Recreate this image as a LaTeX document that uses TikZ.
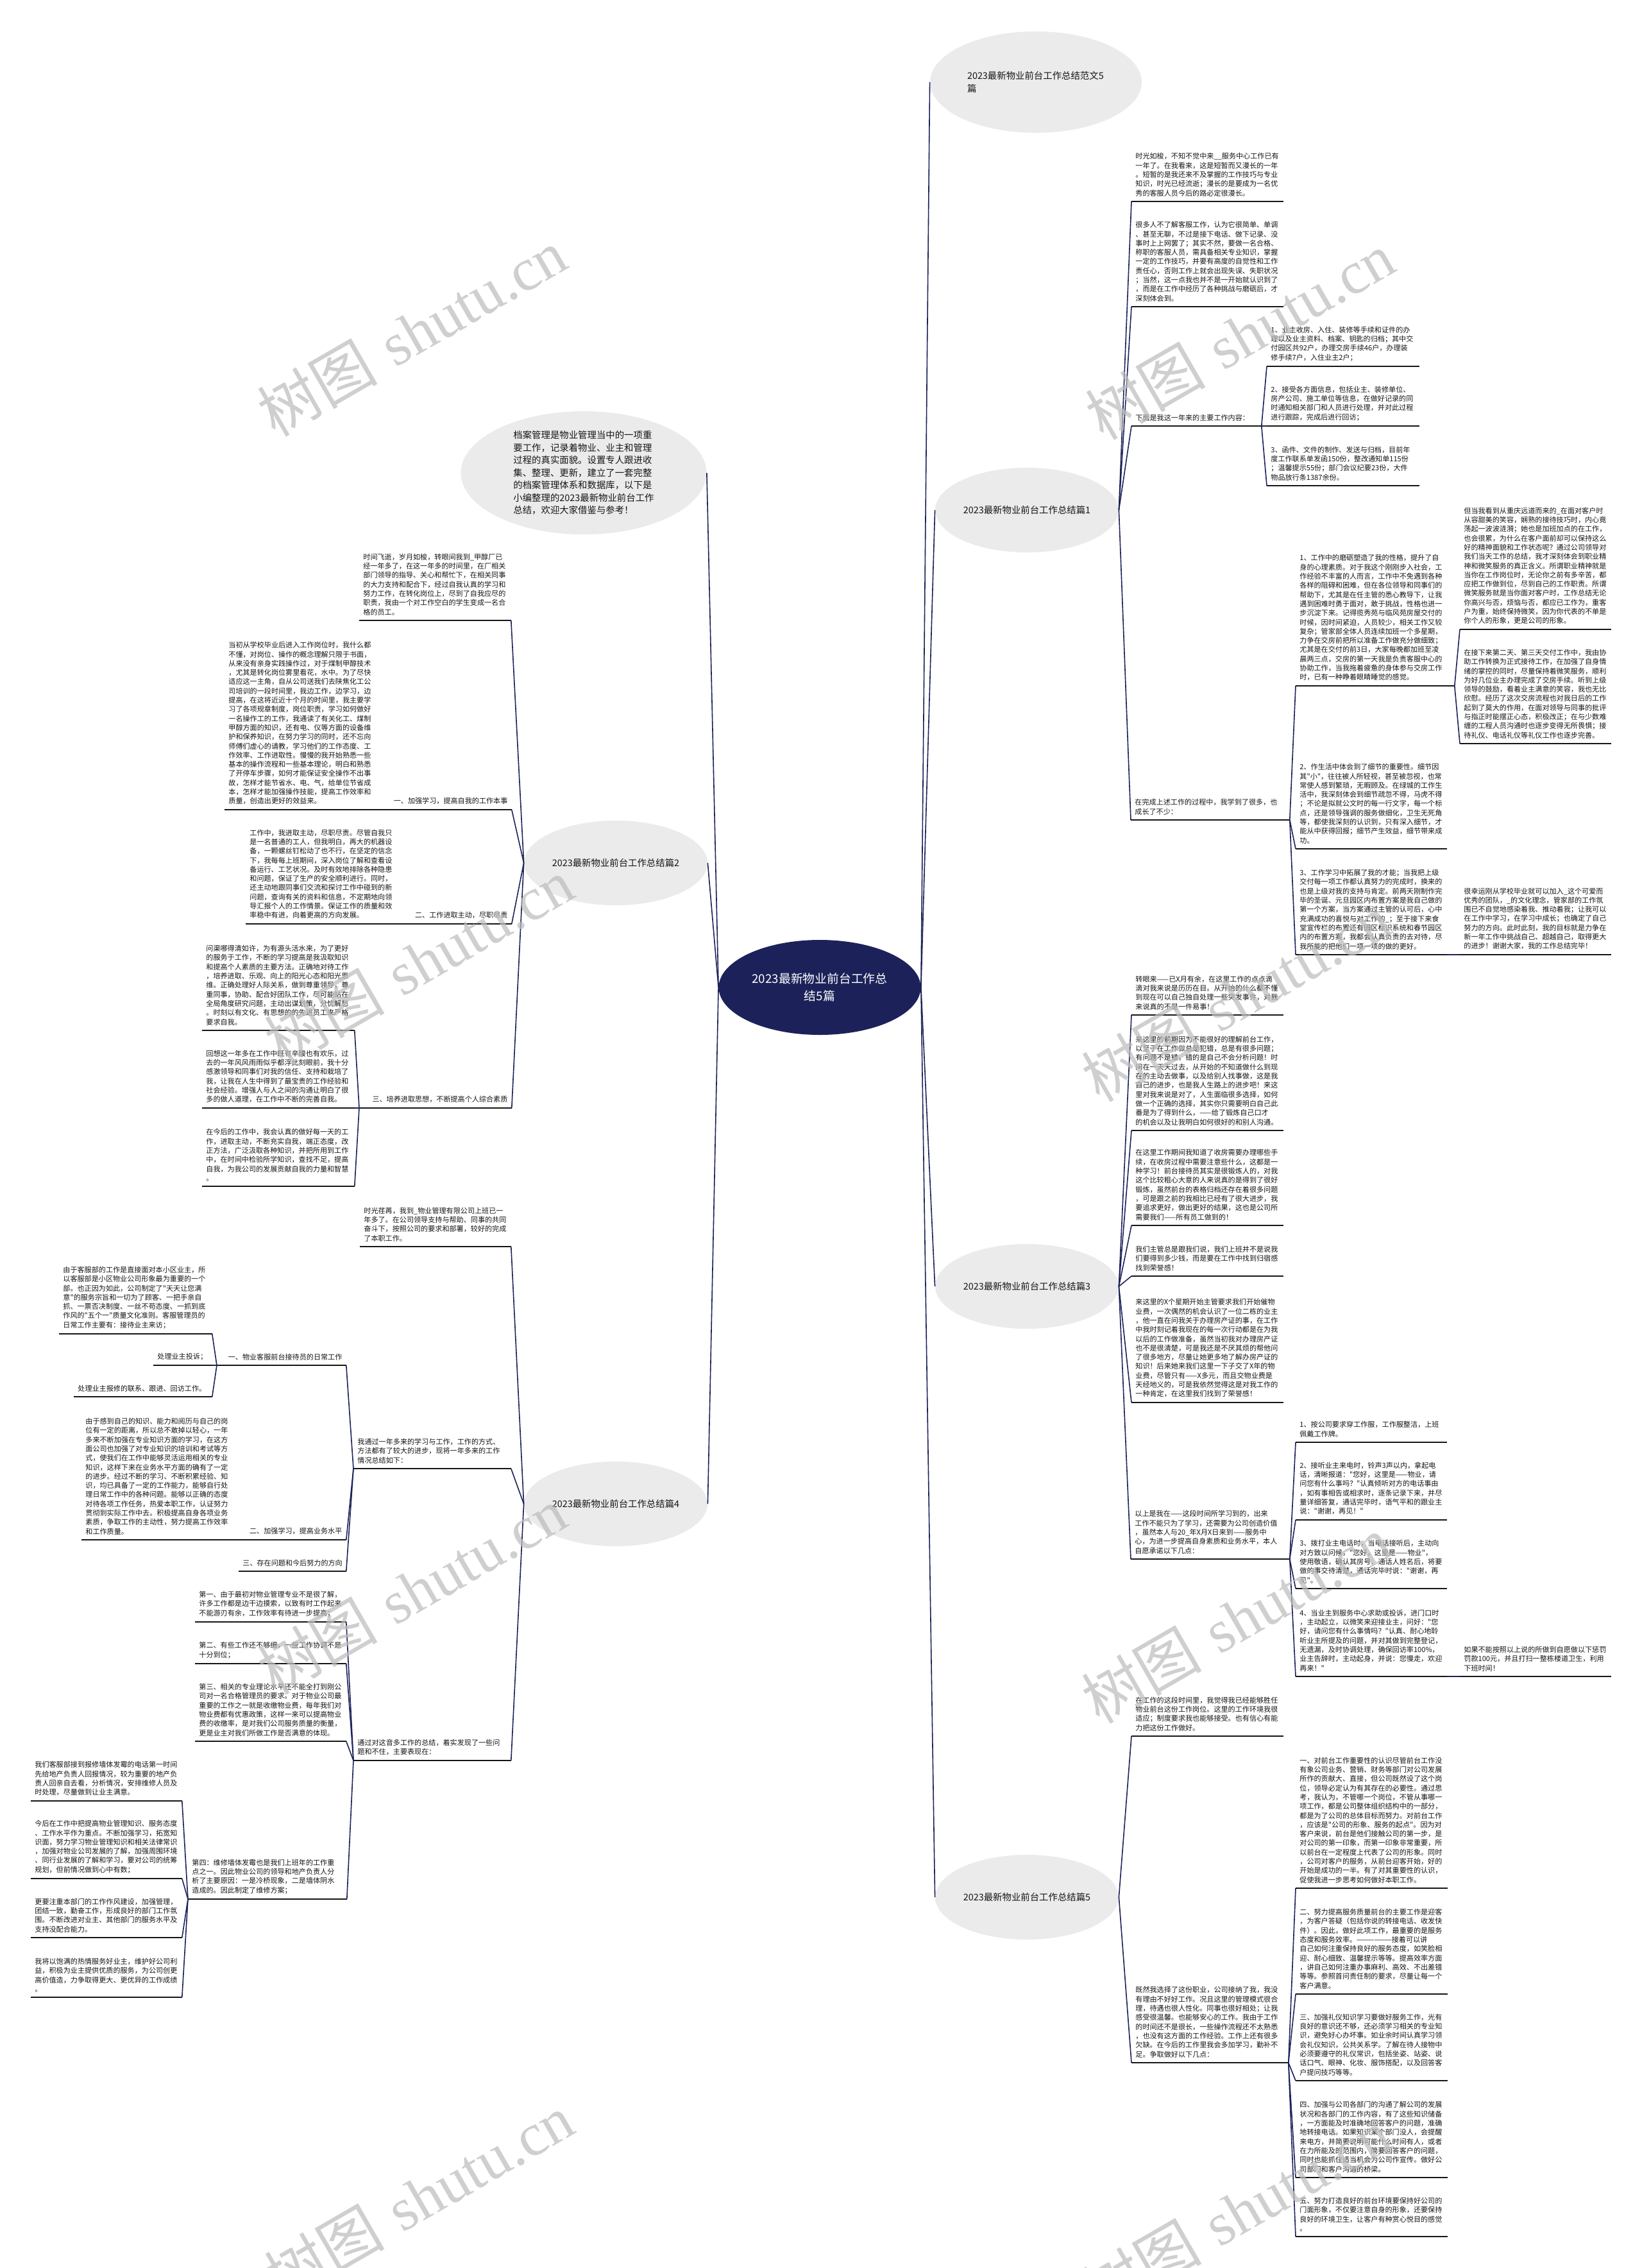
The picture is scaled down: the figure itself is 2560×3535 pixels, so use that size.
\documentclass[tikz,border=0pt]{standalone}
\usepackage{fontspec}
\usepackage{xcolor}
\usepackage{tikz}
\usetikzlibrary{shapes.geometric}
\newfontfamily\cjkfont{Noto Sans CJK SC}
\newfontfamily\markfont{Liberation Serif}
\definecolor{mapnavy}{HTML}{1C2259}
\definecolor{mapgray}{HTML}{EBEBEB}
\definecolor{mapink}{HTML}{161616}
\definecolor{markgray}{HTML}{BDBDBD}
\tikzset{
  rootnode/.style={ellipse,fill=mapnavy,text=white,inner sep=0pt,align=center,
                   font=\cjkfont\fontsize{9.4pt}{13.5pt}\selectfont,
                   minimum width=157.5pt,minimum height=74pt},
  topicnode/.style={ellipse,fill=mapgray,text=mapink,inner sep=0pt,
                    font=\cjkfont\fontsize{7.2pt}{10pt}\selectfont,
                    minimum width=143pt,minimum height=66pt},
  leaf/.style={anchor=south west,align=left,text=mapink,inner xsep=3pt,inner ysep=3.8pt,
               font=\cjkfont\fontsize{5.55pt}{7.15pt}\selectfont,
               /utils/exec={\pgfmathsetlengthmacro\leafw{#1*0.5pt-6pt}},text width=\leafw},
  tagleaf/.style={leaf=#1,align=right},
  uline/.style={draw=mapink,line width=1.1pt},
  link/.style={draw=mapnavy,line width=0.8pt},
  wmark/.style={text=markgray,text opacity=0.72,rotate=30,inner sep=0pt,
                font=\fontsize{47pt}{50pt}\selectfont},
}

\begin{document}
\begin{tikzpicture}[x=0.5pt,y=-0.5pt]
  \fill[white] (0,0) rectangle (2560,3535);
  \useasboundingbox (0,0) rectangle (2560,3535);
  % centre and first level
  \node[rootnode] (root) at (1278,1539) {2023最新物业前台工作总\\结5篇};
  \node[topicnode,minimum width=165pt,minimum height=79pt,text width=107pt,align=left] (fw) at (1615,128)
    {2023最新物业前台工作总结范文5\\篇};
  \node[topicnode] (s1) at (1601,795) {2023最新物业前台工作总结篇1};
  \node[topicnode] (s3) at (1601,2005) {2023最新物业前台工作总结篇3};
  \node[topicnode] (s5) at (1601,2957) {2023最新物业前台工作总结篇5};
  \node[topicnode,minimum width=191.5pt,minimum height=96pt,align=left,
        font=\cjkfont\fontsize{7.2pt}{9.75pt}\selectfont] (intro) at (910,737)
    {档案管理是物业管理当中的一项重\\要工作，记录着物业、业主和管理\\过程的真实面貌。设置专人跟进收\\集、整理、更新，建立了一套完整\\的档案管理体系和数据库，以下是\\小编整理的2023最新物业前台工作\\总结，欢迎大家借鉴与参考！};
  \node[topicnode] (s2) at (960,1345) {2023最新物业前台工作总结篇2};
  \node[topicnode] (s4) at (960,2344) {2023最新物业前台工作总结篇4};

  % part 1, right
  \node[leaf=236] (s1a) at (1764,314) {时光如梭，不知不觉中来\_\_服务中心工作已有\\一年了。在我看来，这是短暂而又漫长的一年\\。短暂的是我还来不及掌握的工作技巧与专业\\知识，时光已经流逝；漫长的是要成为一名优\\秀的客服人员今后的路必定很漫长。};
  \node[leaf=236] (s1b) at (1764,478) {很多人不了解客服工作，认为它很简单、单调\\、甚至无聊，不过是接下电话、做下记录、没\\事时上上网罢了；其实不然，要做一名合格、\\称职的客服人员，需具备相关专业知识，掌握\\一定的工作技巧，并要有高度的自觉性和工作\\责任心，否则工作上就会出现失误、失职状况\\；当然，这一点我也并不是一开始就认识到了\\，而是在工作中经历了各种挑战与磨砺后，才\\深刻体会到。};
  \node[leaf=202] (s1c) at (1764,664) {下面是我这一年来的主要工作内容：};
  \node[leaf=237] (s1c1) at (1975,571) {1、业主收房、入住、装修等手续和证件的办\\理以及业主资料、档案、钥匙的归档；其中交\\付园区共92户，办理交房手续46户，办理装\\修手续7户，入住业主2户；};
  \node[leaf=237] (s1c2) at (1975,664) {2、接受各方面信息，包括业主、装修单位、\\房产公司、施工单位等信息，在做好记录的同\\时通知相关部门和人员进行处理，并对此过程\\进行跟踪，完成后进行回访；};
  \node[leaf=237] (s1c3) at (1975,757) {3、函件、文件的制作、发送与归档，目前年\\度工作联系单发函150份，整改通知单115份\\；温馨提示55份；部门会议纪要23份，大件\\物品放行条1387余份。};
  \node[leaf=247] (s1d) at (1763,1278) {在完成上述工作的过程中，我学到了很多，也\\成长了不少：};
  \node[leaf=247] (s1d1) at (2020,1069) {1、工作中的磨砺塑造了我的性格，提升了自\\身的心理素质。对于我这个刚刚步入社会，工\\作经验不丰富的人而言，工作中不免遇到各种\\各样的阻碍和困难，但在各位领导和同事们的\\帮助下，尤其是在任主管的悉心教导下，让我\\遇到困难时勇于面对，敢于挑战，性格也进一\\步沉淀下来。记得揽秀苑与临风苑房屋交付的\\时候，因时间紧迫，人员较少，相关工作又较\\复杂；管家部全体人员连续加班一个多星期，\\力争在交房前把所以准备工作做充分做细致；\\尤其是在交付的前3日，大家每晚都加班至凌\\晨两三点，交房的第一天我是负责客服中心的\\协助工作，当我拖着疲惫的身体参与交房工作\\时，已有一种睁着眼睛睡觉的感觉。};
  \node[leaf=235] (s1d1a) at (2276,981) {但当我看到从重庆远道而来的\_在面对客户时\\从容甜美的笑容，娴熟的接待技巧时，内心竟\\荡起一波波涟漪；她也是加班加点的在工作，\\也会很累，为什么在客户面前却可以保持这么\\好的精神面貌和工作状态呢？通过公司领导对\\我们当天工作的总结，我才深刻体会到职业精\\神和微笑服务的真正含义。所谓职业精神就是\\当你在工作岗位时，无论你之前有多辛苦，都\\应把工作做到位，尽到自己的工作职责。所谓\\微笑服务就是当你面对客户时，工作总结无论\\你高兴与否，烦恼与否，都应已工作为，重客\\户为重，始终保持微笑，因为你代表的不单是\\你个人的形象，更是公司的形象。};
  \node[leaf=235] (s1d1b) at (2276,1159) {在接下来第二天、第三天交付工作中，我由协\\助工作转换为正式接待工作，在加强了自身情\\绪的掌控的同时，尽量保持着微笑服务，顺利\\为好几位业主办理完成了交房手续。听到上级\\领导的鼓励，看着业主满意的笑容，我也无比\\欣慰。经历了这次交房流程也对我日后的工作\\起到了莫大的作用，在面对领导与同事的批评\\与指正时能摆正心态，积极改正；在与少数难\\缠的工程人员沟通时也逐步变得无所畏惧；接\\待礼仪、电话礼仪等礼仪工作也逐步完善。};
  \node[leaf=235] (s1d2) at (2020,1323) {2、作生活中体会到了细节的重要性。细节因\\其"小"，往往被人所轻视，甚至被忽视，也常\\常使人感到繁琐，无暇顾及。在绿城的工作生\\活中，我深刻体会到细节疏忽不得，马虎不得\\；不论是拟就公文时的每一行文字，每一个标\\点，还是领导强调的服务做细化，卫生无死角\\等，都使我深刻的认识到，只有深入细节，才\\能从中获得回报；细节产生效益，细节带来成\\功。};
  \node[leaf=235] (s1d3) at (2020,1488) {3、工作学习中拓展了我的才能；当我把上级\\交付每一项工作都认真努力的完成时，换来的\\也是上级对我的支持与肯定。前两天刚制作完\\毕的圣诞、元旦园区内布置方案是我自己做的\\第一个方案，当方案通过主管的认可后，心中\\充满成功的喜悦与对工作的\_；至于接下来食\\堂宣传栏的布置还有园区标识系统和春节园区\\内的布置方案，我都会认真负责的去对待，尽\\我所能的把他们一项一项的做的更好。};
  \node[leaf=235] (s1d3a) at (2276,1488) {很幸运刚从学校毕业就可以加入\_这个可爱而\\优秀的团队，\_的文化理念，管家部的工作氛\\围已不自觉地感染着我、推动着我；让我可以\\在工作中学习，在学习中成长；也确定了自己\\努力的方向。此时此刻，我的目标就是力争在\\新一年工作中挑战自己、超越自己，取得更大\\的进步！谢谢大家，我的工作总结完毕！};

  % part 3, right
  \node[leaf=236] (s3a) at (1764,1582) {转眼来——已X月有余，在这里工作的点点滴\\滴对我来说是历历在目。从开始的什么都不懂\\到现在可以自己独自处理一些突发事件，对我\\来说真的不是一件易事！};
  \node[leaf=236] (s3b) at (1764,1762) {来这里的前期因为不能很好的理解前台工作，\\以至于在工作做总是犯错，总是有很多问题；\\有问题不是错，错的是自己不会分析问题！时\\间在一天天过去，从开始的不知道做什么到现\\在的主动去做事，以及给别人找事做，这是我\\自己的进步，也是我人生路上的进步吧！来这\\里对我来说是对了，人生面临很多选择，如何\\做一个正确的选择，其实你只需要明白自己此\\番是为了得到什么，——给了锻炼自己口才\\的机会以及让我明白如何很好的和别人沟通。};
  \node[leaf=236] (s3c) at (1764,1910) {在这里工作期间我知道了收房需要办理哪些手\\续，在收房过程中需要注意些什么，这都是一\\种学习！前台接待员其实是很锻炼人的，对我\\这个比较粗心大意的人来说真的是得到了很好\\锻炼，虽然前台的表格归档还存在着很多问题\\，可是跟之前的我相比已经有了很大进步，我\\要追求更好，做出更好的结果，这也是公司所\\需要我们——所有员工做到的！};
  \node[leaf=236] (s3d) at (1764,1989) {我们主管总是跟我们说，我们上班并不是说我\\们要得到多少钱，而是要在工作中找到归宿感\\找到荣誉感！};
  \node[leaf=236] (s3e) at (1764,2186) {来这里的X个星期开始主管要求我们开始催物\\业费，一次偶然的机会认识了一位二栋的业主\\，他一直在问我关于办理房产证的事，在工作\\中我时刻记着我现在的每一次行动都是在为我\\以后的工作做准备，虽然当初我对办理房产证\\也不是很清楚，可是我还是不厌其烦的帮他问\\了很多地方，尽量让她更多地了解办房产证的\\知识！后来她来我们这里一下子交了X年的物\\业费，尽管只有——X多元，而且交物业费是\\天经地义的，可是我依然觉得这是对我工作的\\一种肯定，在这里我们找到了荣誉感！};
  \node[leaf=247] (s3f) at (1763,2430) {以上是我在——这段时间所学习到的，出来\\工作不能只为了学习，还需要为公司创造价值\\，虽然本人与20\_年X月X日来到——服务中\\心，为进一步提高自身素质和业务水平，本人\\自愿承诺以下几点：};
  \node[leaf=235] (s3f1) at (2020,2248) {1、按公司要求穿工作服，工作服整洁，上班\\佩戴工作牌。};
  \node[leaf=235] (s3f2) at (2020,2369) {2、接听业主来电时，铃声3声以内，拿起电\\话，清晰报道："您好，这里是——物业，请\\问您有什么事吗？"认真倾听对方的电话事由\\，如有事相告或相求时，逐条记录下来，并尽\\量详细答复，通话完毕时，语气平和的跟业主\\说："谢谢，再见！"};
  \node[leaf=235] (s3f3) at (2020,2476) {3、拨打业主电话时，当电话接听后，主动向\\对方致以问候，"您好，这里是——物业"，\\使用敬语，确认其房号、通话人姓名后，将要\\做的事交待清楚，通话完毕时说："谢谢，再\\见"。};
  \node[leaf=235] (s3f4) at (2020,2613) {4、当业主到服务中心求助或投诉，进门口时\\，主动起立，以微笑来迎接业主，问好："您\\好，请问您有什么事情吗？"认真、耐心地聆\\听业主所提及的问题，并对其做到完整登记，\\无遗漏，及时协调处理，确保回访率100\%，\\业主告辞时，主动起身，并说：您慢走，欢迎\\再来！"};
  \node[leaf=235] (s3f4a) at (2276,2613) {如果不能按照以上说的所做到自愿做以下惩罚\\罚款100元，并且打扫一整栋楼道卫生，利用\\下班时间！};

  % part 5, right
  \node[leaf=236] (s5a) at (1764,2706) {在工作的这段时间里，我觉得我已经能够胜任\\物业前台这份工作岗位。这里的工作环境我很\\适应；制度要求我也能够接受。也有信心有能\\力把这份工作做好。};
  \node[leaf=244] (s5b) at (1764,3215) {既然我选择了这份职业，公司接纳了我，我没\\有理由不好好工作。况且这里的管理模式很合\\理，待遇也很人性化。同事也很好相处；让我\\感受很温馨。也能够安心的工作。我由于工作\\的时间还不是很长，一些操作流程还不太熟悉\\，也没有这方面的工作经验。工作上还有很多\\欠缺。在今后的工作里我会多加学习，勤补不\\足。争取做好以下几点：};
  \node[leaf=236] (s5b1) at (2020,2943) {一、对前台工作重要性的认识尽管前台工作没\\有象公司业务、营销、财务等部门对公司发展\\所作的贡献大、直接，但公司既然设了这个岗\\位，领导必定认为有其存在的必要性。通过思\\考，我认为，不管哪一个岗位，不管从事哪一\\项工作，都是公司整体组织结构中的一部分，\\都是为了公司的总体目标而努力。对前台工作\\，应该是"公司的形象、服务的起点"。因为对\\客户来说，前台是他们接触公司的第一步，是\\对公司的第一印象，而第一印象非常重要，所\\以前台在一定程度上代表了公司的形象。同时\\，公司对客户的服务，从前台迎客开始，好的\\开始是成功的一半。有了对其重要性的认识，\\促使我进一步思考如何做好本职工作。};
  \node[leaf=236] (s5b2) at (2020,3108) {二、努力提高服务质量前台的主要工作是迎客\\，为客户答疑（包括你说的转接电话、收发快\\件）。因此，做好此项工作，最重要的是服务\\态度和服务效率。——————接着可以讲\\自己如何注重保持良好的服务态度，如笑脸相\\迎、耐心细致、温馨提示等等。提高效率方面\\，讲自己如何注重办事麻利、高效、不出差错\\等等。参照首问责任制的要求，尽量让每一个\\客户满意。};
  \node[leaf=236] (s5b3) at (2020,3243) {三、加强礼仪知识学习要做好服务工作，光有\\良好的意识还不够，还必须学习相关的专业知\\识，避免好心办坏事。如业余时间认真学习领\\会礼仪知识，公共关系学。了解在待人接物中\\必须要遵守的礼仪常识，包括坐姿、站姿、说\\话口气、眼神、化妆、服饰搭配，以及回答客\\户提问技巧等等。};
  \node[leaf=236] (s5b4) at (2020,3394) {四、加强与公司各部门的沟通了解公司的发展\\状况和各部门的工作内容，有了这些知识储备\\，一方面能及时准确地回答客户的问题，准确\\地转接电话。如果知识某个部门没人，会提醒\\来电方，并简要说明可能什么时间有人，或者\\在力所能及的范围内，简要回答客户的问题，\\同时也能抓住适当机会为公司作宣传。做好公\\司部门和客户沟通的桥梁。};
  \node[leaf=236] (s5b5) at (2020,3486) {五、努力打造良好的前台环境要保持好公司的\\门面形象，不仅要注意自身的形象，还要保持\\良好的环境卫生，让客户有种赏心悦目的感觉\\。};

  % part 2, left
  \node[leaf=236] (s2a) at (560,967) {时间飞逝，岁月如梭，转眼间我到\_甲醇厂已\\经一年多了，在这一年多的时间里，在厂相关\\部门领导的指导、关心和帮忙下，在相关同事\\的大力支持和配合下，经过自我认真的学习和\\努力工作，在转化岗位上，尽到了自我应尽的\\职责，我由一个对工作空白的学生变成一名合\\格的员工。};
  \node[tagleaf=203] (s2b) at (594,1262) {一、加强学习，提高自我的工作本事};
  \node[leaf=244] (s2b1) at (350,1262) {当初从学校毕业后进入工作岗位时，我什么都\\不懂，对岗位、操作的概念理解只限于书面，\\从来没有亲身实践操作过，对于煤制甲醇技术\\，尤其是转化岗位雾里看花，水中。为了尽快\\适应这一主角，自从公司送我们去陕焦化工公\\司培训的一段时间里，我边工作，边学习，边\\提高，在这将近近十个月的时间里，我主要学\\习了各项规章制度，岗位职责，学习如何做好\\一名操作工的工作，我通读了有关化工、煤制\\甲醇方面的知识，还有电、仪等方面的设备维\\护和保养知识，在努力学习的同时，还不忘向\\师傅们虚心的请教，学习他们的工作态度、工\\作效率、工作进取性。慢慢的我开始熟悉一些\\基本的操作流程和一些基本理论，明白和熟悉\\了开停车步骤，如何才能保证安全操作不出事\\故，怎样才能节省水、电、气，给单位节省成\\本，怎样才能加强操作技能，提高工作效率和\\质量，创造出更好的效益来。};
  \node[tagleaf=169] (s2c) at (628,1440) {二、工作进取主动，尽职尽责};
  \node[leaf=245] (s2c1) at (383,1440) {工作中，我进取主动，尽职尽责。尽管自我只\\是一名普通的工人，但我明白，再大的机器设\\备，一颗螺丝钉松动了也不行，在坚定的信念\\下，我每每上班期间，深入岗位了解和查看设\\备运行、工艺状况。及时有效地排除各种隐患\\和问题，保证了生产的安全顺利进行。同时，\\还主动地跟同事们交流和探讨工作中碰到的新\\问题，查询有关的资料和信息，不定期地向领\\导汇报个人的工作情景。保证工作的质量和效\\率稳中有进，向着更高的方向发展。};
  \node[tagleaf=237] (s2d) at (560,1727) {三、培养进取思想，不断提高个人综合素质};
  \node[leaf=237] (s2d1) at (315,1606) {问渠哪得清如许，为有源头活水来，为了更好\\的服务于工作，不断的学习提高是我汲取知识\\和提高个人素质的主要方法。正确地对待工作\\，培养进取、乐观、向上的阳光心态和阳光思\\维。正确处理好人际关系，做到尊重领导，尊\\重同事，协助、配合好团队工作，尽可能站在\\全局角度研究问题，主动出谋划策，分忧解愁\\。时刻以有文化、有思想的的先进员工来严格\\要求自我。};
  \node[leaf=237] (s2d2) at (315,1727) {回想这一年多在工作中既有辛酸也有欢乐，过\\去的一年风风雨雨似乎都浮此刻眼前，我十分\\感激领导和同事们对我的信任、支持和栽培了\\我，让我在人生中得到了最宝贵的工作经验和\\社会经验。增强人与人之间的沟通让明白了很\\多的做人道理，在工作中不断的完善自我。};
  \node[leaf=237] (s2d3) at (315,1849) {在今后的工作中，我会认真的做好每一天的工\\作，进取主动，不断充实自我，端正态度，改\\正方法，广泛汲取各种知识，并把所用到工作\\中，在时间中检验所学知识，查找不足，提高\\自我，为我公司的发展贡献自我的力量和智慧\\。};

  % part 4, left
  \node[leaf=235] (s4a) at (561,1943) {时光荏苒，我到\_物业管理有限公司上班已一\\年多了。在公司领导支持与帮助、同事的共同\\奋斗下，按照公司的要求和部署，较好的完成\\了本职工作。};
  \node[leaf=245] (s4b) at (551,2289) {我通过一年多来的学习与工作，工作的方式、\\方法都有了较大的进步，现将一年多来的工作\\情况总结如下：};
  \node[tagleaf=201] (s4b1) at (338,2128) {一、物业客服前台接待员的日常工作};
  \node[leaf=238] (s4b1a) at (92,2079) {由于客服部的工作是直接面对本小区业主，所\\以客服部是小区物业公司形象最为重要的一个\\部。也正因为如此，公司制定了"天天让您满\\意"的服务宗旨和一切为了顾客、一把手亲自\\抓、一票否决制度、一丝不苟态度、一抓到底\\作风的"五个一"质量文化准则。客服管理员的\\日常工作主要有：接待业主来访；};
  \node[leaf=91] (s4b1b) at (239,2128) {处理业主投诉；};
  \node[leaf=215] (s4b1c) at (115,2177) {处理业主报修的联系、跟进、回访工作。};
  \node[tagleaf=167] (s4b2) at (372,2400) {二、加强学习，提高业务水平};
  \node[leaf=245] (s4b2a) at (127,2400) {由于感到自己的知识、能力和阅历与自己的岗\\位有一定的距离，所以总不敢掉以轻心，一年\\多来不断加强在专业知识方面的学习，在这方\\面公司也加强了对专业知识的培训和考试等方\\式，使我们在工作中能够灵活运用相关的专业\\知识，这样下来在业务水平方面的确有了一定\\的进步。经过不断的学习、不断积累经验、知\\识，均已具备了一定的工作能力，能够自行处\\理日常工作中的各种问题。能够以正确的态度\\对待各项工作任务，热爱本职工作，认证努力\\贯彻到实际工作中去。积极提高自身各项业务\\素质，争取工作的主动性，努力提高工作效率\\和工作质量。};
  \node[tagleaf=167] (s4b3) at (372,2449) {三、存在问题和今后努力的方向};
  \node[leaf=245] (s4c) at (551,2744) {通过对这音多工作的总结，着实发现了一些问\\题和不住，主要表现在：};
  \node[leaf=235] (s4c1) at (304,2528) {第一、由于最初对物业管理专业不是很了解，\\许多工作都是边干边摸索，以致有时工作起来\\不能游刃有余，工作效率有待进一步提高；};
  \node[leaf=235] (s4c2) at (304,2593) {第二、有些工作还不够细，一些工作协调不是\\十分到位；};
  \node[leaf=235] (s4c3) at (304,2714) {第三、相关的专业理论水平还不能全打到刚公\\司对一名合格管理员的要求。对于物业公司最\\重要的工作之一就是收缴物业费，每年我们对\\物业费都有优惠政策，这样一来可以提高物业\\费的收缴率，是对我们公司服务质量的衡量，\\更是业主对我们所做工作是否满意的体现。};
  \node[leaf=247] (s4c4) at (293,2960) {第四：维修墙体发霉也是我们上班年的工作重\\点之一。因此物业公司的领导和地产负责人分\\析了主要原因：一是冷桥现象，二是墙体阴水\\造成的。因此制定了维修方案；};
  \node[leaf=235] (s4c4a) at (48,2807) {我们客服部接到报修墙体发霉的电话第一时间\\先给地产负责人回报情况，较为重要的地产负\\责人回亲自去看，分析情况，安排维修人员及\\时处理，尽量做到让业主满意。};
  \node[leaf=235] (s4c4b) at (48,2928) {今后在工作中把提高物业管理知识、服务态度\\、工作水平作为重点。不断加强学习，拓宽知\\识面，努力学习物业管理知识和相关法律常识\\，加强对物业公司发展的了解，加强周围环境\\、同行业发展的了解和学习，要对公司的统筹\\规划，但前情况做到心中有数；};
  \node[leaf=235] (s4c4c) at (48,3020) {更要注重本部门的工作作风建设，加强管理，\\团结一致，勤奋工作，形成良好的部门工作氛\\围。不断改进对业主、其他部门的服务水平及\\支持没配合能力。};
  \node[leaf=235] (s4c4d) at (48,3113) {我将以饱满的热情服务好业主，维护好公司利\\益，积极为业主提供优质的服务，为公司创更\\高价值造，力争取得更大、更优异的工作成绩\\。};

  % underlines under every text block
  \foreach \n in {s1a,s1b,s1c,s1c1,s1c2,s1c3,s1d,s1d1,s1d1a,s1d1b,s1d2,s1d3,s1d3a,
                  s3a,s3b,s3c,s3d,s3e,s3f,s3f1,s3f2,s3f3,s3f4,s3f4a,
                  s5a,s5b,s5b1,s5b2,s5b3,s5b4,s5b5,
                  s2a,s2b,s2b1,s2c,s2c1,s2d,s2d1,s2d2,s2d3,
                  s4a,s4b,s4b1,s4b1a,s4b1b,s4b1c,s4b2,s4b2a,s4b3,
                  s4c,s4c1,s4c2,s4c3,s4c4,s4c4a,s4c4b,s4c4c,s4c4d}
    \draw[uline] (\n.south west) -- (\n.south east);

  % connectors, right side
  \foreach \t in {fw,s1,s3,s5} \draw[link] (root.east) -- (\t.west);
  \foreach \c in {s1a,s1b,s1c,s1d} \draw[link] (s1.east) -- (\c.south west);
  \foreach \c in {s1c1,s1c2,s1c3} \draw[link] (s1c.south east) -- (\c.south west);
  \foreach \c in {s1d1,s1d2,s1d3} \draw[link] (s1d.south east) -- (\c.south west);
  \foreach \c in {s1d1a,s1d1b} \draw[link] (s1d1.south east) -- (\c.south west);
  \draw[link] (s1d3.south east) -- (s1d3a.south west);
  \foreach \c in {s3a,s3b,s3c,s3d,s3e,s3f} \draw[link] (s3.east) -- (\c.south west);
  \foreach \c in {s3f1,s3f2,s3f3,s3f4} \draw[link] (s3f.south east) -- (\c.south west);
  \draw[link] (s3f4.south east) -- (s3f4a.south west);
  \foreach \c in {s5a,s5b} \draw[link] (s5.east) -- (\c.south west);
  \foreach \c in {s5b1,s5b2,s5b3,s5b4,s5b5} \draw[link] (s5b.south east) -- (\c.south west);
  % connectors, left side
  \foreach \t in {intro,s2,s4} \draw[link] (root.west) -- (\t.east);
  \foreach \c in {s2a,s2b,s2c,s2d} \draw[link] (s2.west) -- (\c.south east);
  \foreach \c in {s2d1,s2d2,s2d3} \draw[link] (s2d.south west) -- (\c.south east);
  \foreach \c in {s4a,s4b,s4c} \draw[link] (s4.west) -- (\c.south east);
  \foreach \c in {s4b1,s4b2,s4b3} \draw[link] (s4b.south west) -- (\c.south east);
  \foreach \c in {s4b1a,s4b1b,s4b1c} \draw[link] (s4b1.south west) -- (\c.south east);
  \foreach \c in {s4c1,s4c2,s4c3,s4c4} \draw[link] (s4c.south west) -- (\c.south east);
  \foreach \c in {s4c4a,s4c4b,s4c4c,s4c4d} \draw[link] (s4c4.south west) -- (\c.south east);

  % watermark
  \foreach \wx/\wy [count=\k] in {642/518,1933/523,653/1499,1927/1555,642/2479,1927/2524,653/3425,1927/3448}
    \node[wmark] (wm\k) at (\wx,\wy) {{\cjkfont 树图}\ {\markfont shutu.cn}};
\end{tikzpicture}
\end{document}
